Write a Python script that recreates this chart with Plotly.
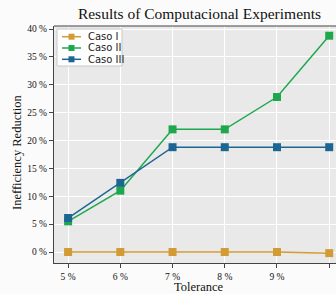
import plotly.graph_objects as go

tolerance = [5, 6, 7, 8, 9, 10]
tick_labels = ["5 %", "6 %", "7 %", "8 %", "9 %", "10 %"]
caso1 = [0, 0, 0, 0, 0, -0.2]
caso2 = [5.5, 11.0, 22.0, 22.0, 27.8, 38.8]
caso3 = [6.1, 12.4, 18.8, 18.8, 18.8, 18.8]
y_ticks = [0, 5, 10, 15, 20, 25, 30, 35, 40]
y_tick_labels = ["0 %", "5 %", "10 %", "15 %", "20 %", "25 %", "30 %", "35 %", "40 %"]

series = [("Caso I", caso1, "#d39b35"), ("Caso II", caso2, "#1ea84e"), ("Caso III", caso3, "#1d6694")]

W, H = 336, 294
ML, MR, MT, MB = 54, 0, 26, 31
PW, PH = W - ML - MR, H - MT - MB


def px(x):
    return (x - ML) / PW


def py(y):
    return (H - MB - y) / PH


fig = go.Figure()
for name, vals, col in series:
    fig.add_trace(go.Scatter(x=tolerance, y=vals, name=name, mode="lines+markers",
                             line=dict(color=col, width=1.5),
                             marker=dict(symbol="square", size=8, color=col),
                             showlegend=False))

serif = "Liberation Serif"

# custom compact legend
shapes = [dict(type="rect", xref="paper", yref="paper", x0=px(57), x1=px(122), y0=py(66), y1=py(29),
               fillcolor="white", line=dict(color="#c8c8c8", width=1), layer="above")]
annotations = []
for i, (name, vals, col) in enumerate(series):
    yy = 36.7 + i * 11.3
    shapes.append(dict(type="line", xref="paper", yref="paper", x0=px(62), x1=px(81), y0=py(yy), y1=py(yy),
                       line=dict(color=col, width=1.5), layer="above"))
    shapes.append(dict(type="rect", xref="paper", yref="paper", x0=px(68.5), x1=px(74.5),
                       y0=py(yy + 3), y1=py(yy - 3), fillcolor=col, line=dict(width=0), layer="above"))
    annotations.append(dict(xref="paper", yref="paper", x=px(86), y=py(yy), text=name, showarrow=False,
                            xanchor="left", yanchor="middle",
                            font=dict(family="DejaVu Sans", size=10, color="#222")))

# axis titles
annotations.append(dict(xref="paper", yref="paper", x=px(17), y=py(153), text="Inefficiency Reduction",
                        textangle=-90, showarrow=False, xanchor="center", yanchor="middle",
                        font=dict(family=serif, size=12.5, color="#111")))
annotations.append(dict(xref="paper", yref="paper", x=px(198.5), y=py(287), text="Tolerance",
                        showarrow=False, xanchor="center", yanchor="middle",
                        font=dict(family=serif, size=12.5, color="#111")))

shapes.append(dict(type="line", xref="paper", yref="paper", x0=0, x1=1, y0=1, y1=1,
                   line=dict(color="#444", width=1.2)))

fig.update_layout(
    width=W, height=H,
    margin=dict(l=ML, r=MR, t=MT, b=MB),
    paper_bgcolor="#fbfbfb", plot_bgcolor="#e9e9e9",
    title=dict(text="Results of Computacional Experiments", x=199.5 / W, xanchor="center",
               y=1 - 14 / H, yanchor="middle", font=dict(family=serif, size=15.5, color="#111")),
    showlegend=False,
    shapes=shapes,
    annotations=annotations,
    xaxis=dict(range=[4.73, 10.13], tickvals=tolerance, ticktext=tick_labels,
               showgrid=True, gridcolor="white", gridwidth=1, zeroline=False,
               showline=True, linecolor="#444", linewidth=1.2, mirror=False,
               ticks="outside", ticklen=4, tickcolor="#444",
               tickfont=dict(family=serif, size=9.5, color="#111")),
    yaxis=dict(range=[-1.97, 40.54], tickvals=y_ticks, ticktext=y_tick_labels,
               showgrid=True, gridcolor="white", gridwidth=1, zeroline=False,
               showline=True, linecolor="#444", linewidth=1.2,
               ticks="outside", ticklen=4, tickcolor="#444",
               tickfont=dict(family=serif, size=9.5, color="#111")),
)
fig.write_html("out.html", config={"displayModeBar": False},
               post_script="document.body.style.margin='0';document.body.style.overflow='hidden';")
